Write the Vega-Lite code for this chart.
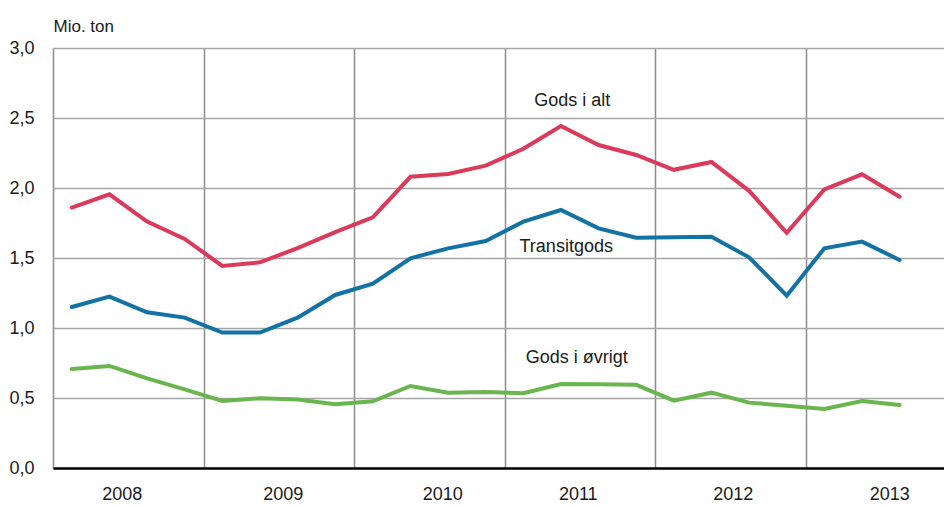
{
  "$schema": "https://vega.github.io/schema/vega-lite/v6.json",
  "width": 891,
  "height": 420,
  "autosize": "none",
  "padding": {"left": 53, "top": 48, "right": 0, "bottom": 37},
  "background": "white",
  "config": {
    "view": {"stroke": null},
    "font": "Liberation Sans Narrow, Liberation Sans, Arial"
  },
  "datasets": {
    "series": [
      {"t": 2008.125, "serie": "Gods i alt", "v": 1.86},
      {"t": 2008.375, "serie": "Gods i alt", "v": 1.955},
      {"t": 2008.625, "serie": "Gods i alt", "v": 1.76},
      {"t": 2008.875, "serie": "Gods i alt", "v": 1.636},
      {"t": 2009.125, "serie": "Gods i alt", "v": 1.443},
      {"t": 2009.375, "serie": "Gods i alt", "v": 1.469},
      {"t": 2009.625, "serie": "Gods i alt", "v": 1.57},
      {"t": 2009.875, "serie": "Gods i alt", "v": 1.685},
      {"t": 2010.125, "serie": "Gods i alt", "v": 1.79},
      {"t": 2010.375, "serie": "Gods i alt", "v": 2.08},
      {"t": 2010.625, "serie": "Gods i alt", "v": 2.1},
      {"t": 2010.875, "serie": "Gods i alt", "v": 2.16},
      {"t": 2011.125, "serie": "Gods i alt", "v": 2.28},
      {"t": 2011.375, "serie": "Gods i alt", "v": 2.443},
      {"t": 2011.625, "serie": "Gods i alt", "v": 2.307},
      {"t": 2011.875, "serie": "Gods i alt", "v": 2.236},
      {"t": 2012.125, "serie": "Gods i alt", "v": 2.13},
      {"t": 2012.375, "serie": "Gods i alt", "v": 2.186},
      {"t": 2012.625, "serie": "Gods i alt", "v": 1.98},
      {"t": 2012.875, "serie": "Gods i alt", "v": 1.68},
      {"t": 2013.125, "serie": "Gods i alt", "v": 1.99},
      {"t": 2013.375, "serie": "Gods i alt", "v": 2.098},
      {"t": 2013.625, "serie": "Gods i alt", "v": 1.938},
      {"t": 2008.125, "serie": "Transitgods", "v": 1.15},
      {"t": 2008.375, "serie": "Transitgods", "v": 1.224},
      {"t": 2008.625, "serie": "Transitgods", "v": 1.112},
      {"t": 2008.875, "serie": "Transitgods", "v": 1.074},
      {"t": 2009.125, "serie": "Transitgods", "v": 0.967},
      {"t": 2009.375, "serie": "Transitgods", "v": 0.967},
      {"t": 2009.625, "serie": "Transitgods", "v": 1.074},
      {"t": 2009.875, "serie": "Transitgods", "v": 1.236},
      {"t": 2010.125, "serie": "Transitgods", "v": 1.316},
      {"t": 2010.375, "serie": "Transitgods", "v": 1.498},
      {"t": 2010.625, "serie": "Transitgods", "v": 1.569},
      {"t": 2010.875, "serie": "Transitgods", "v": 1.621},
      {"t": 2011.125, "serie": "Transitgods", "v": 1.76},
      {"t": 2011.375, "serie": "Transitgods", "v": 1.843},
      {"t": 2011.625, "serie": "Transitgods", "v": 1.712},
      {"t": 2011.875, "serie": "Transitgods", "v": 1.645},
      {"t": 2012.125, "serie": "Transitgods", "v": 1.648},
      {"t": 2012.375, "serie": "Transitgods", "v": 1.652},
      {"t": 2012.625, "serie": "Transitgods", "v": 1.505},
      {"t": 2012.875, "serie": "Transitgods", "v": 1.231},
      {"t": 2013.125, "serie": "Transitgods", "v": 1.569},
      {"t": 2013.375, "serie": "Transitgods", "v": 1.617},
      {"t": 2013.625, "serie": "Transitgods", "v": 1.486},
      {"t": 2008.125, "serie": "Gods i øvrigt", "v": 0.707},
      {"t": 2008.375, "serie": "Gods i øvrigt", "v": 0.729},
      {"t": 2008.625, "serie": "Gods i øvrigt", "v": 0.64},
      {"t": 2008.875, "serie": "Gods i øvrigt", "v": 0.562},
      {"t": 2009.125, "serie": "Gods i øvrigt", "v": 0.479},
      {"t": 2009.375, "serie": "Gods i øvrigt", "v": 0.498},
      {"t": 2009.625, "serie": "Gods i øvrigt", "v": 0.49},
      {"t": 2009.875, "serie": "Gods i øvrigt", "v": 0.455},
      {"t": 2010.125, "serie": "Gods i øvrigt", "v": 0.476},
      {"t": 2010.375, "serie": "Gods i øvrigt", "v": 0.586},
      {"t": 2010.625, "serie": "Gods i øvrigt", "v": 0.538},
      {"t": 2010.875, "serie": "Gods i øvrigt", "v": 0.543},
      {"t": 2011.125, "serie": "Gods i øvrigt", "v": 0.534},
      {"t": 2011.375, "serie": "Gods i øvrigt", "v": 0.6},
      {"t": 2011.625, "serie": "Gods i øvrigt", "v": 0.598},
      {"t": 2011.875, "serie": "Gods i øvrigt", "v": 0.594},
      {"t": 2012.125, "serie": "Gods i øvrigt", "v": 0.481},
      {"t": 2012.375, "serie": "Gods i øvrigt", "v": 0.538},
      {"t": 2012.625, "serie": "Gods i øvrigt", "v": 0.467},
      {"t": 2012.875, "serie": "Gods i øvrigt", "v": 0.445},
      {"t": 2013.125, "serie": "Gods i øvrigt", "v": 0.421},
      {"t": 2013.375, "serie": "Gods i øvrigt", "v": 0.479},
      {"t": 2013.625, "serie": "Gods i øvrigt", "v": 0.45}
    ],
    "years": [
      {"label": "2008", "t": 2008.46},
      {"label": "2009", "t": 2009.53},
      {"label": "2010", "t": 2010.59},
      {"label": "2011", "t": 2011.49},
      {"label": "2012", "t": 2012.52},
      {"label": "2013", "t": 2013.56}
    ],
    "notes": [
      {"label": "Gods i alt", "t": 2011.45, "v": 2.62},
      {"label": "Transitgods", "t": 2011.41, "v": 1.58},
      {"label": "Gods i øvrigt", "t": 2011.48, "v": 0.786}
    ]
  },
  "layer": [
    {
      "data": {"name": "series"},
      "mark": {"type": "line", "strokeWidth": 4, "strokeCap": "round", "strokeJoin": "miter"},
      "encoding": {
        "x": {
          "field": "t", "type": "quantitative",
          "scale": {"domain": [2008, 2013.92], "nice": false, "zero": false},
          "axis": {
            "values": [2008, 2009, 2010, 2011, 2012, 2013],
            "labels": false, "ticks": false, "title": null,
            "grid": true, "gridColor": "#8c8c8c", "gridWidth": 1.5,
            "domain": true, "domainColor": "#000000", "domainWidth": 2.5
          }
        },
        "y": {
          "field": "v", "type": "quantitative",
          "scale": {"domain": [0, 3], "nice": false},
          "axis": {
            "values": [0, 0.5, 1, 1.5, 2, 2.5, 3],
            "labelExpr": "replace(format(datum.value, '.1f'), '.', ',')",
            "labelFontSize": 18, "labelColor": "#1a1a1a", "labelPadding": 19,
            "ticks": false, "domain": false,
            "grid": true, "gridColor": "#a6a6a6", "gridWidth": 1.5,
            "title": "Mio. ton", "titleAngle": 0, "titleAlign": "left",
            "titleBaseline": "alphabetic", "titleX": 0, "titleY": -17,
            "titleFontSize": 17, "titleFontWeight": "normal", "titleColor": "#1a1a1a"
          }
        },
        "color": {
          "field": "serie", "type": "nominal",
          "scale": {
            "domain": ["Gods i alt", "Transitgods", "Gods i øvrigt"],
            "range": ["#db3a5b", "#1372a4", "#6ab54f"]
          },
          "legend": null
        }
      }
    },
    {
      "data": {"name": "years"},
      "mark": {"type": "text", "fontSize": 18, "color": "#1a1a1a", "baseline": "middle", "align": "center"},
      "encoding": {
        "x": {"field": "t", "type": "quantitative"},
        "y": {"datum": -0.193, "type": "quantitative"},
        "text": {"field": "label"}
      }
    },
    {
      "data": {"name": "notes"},
      "mark": {"type": "text", "fontSize": 18, "color": "#1a1a1a", "baseline": "middle", "align": "center"},
      "encoding": {
        "x": {"field": "t", "type": "quantitative"},
        "y": {"field": "v", "type": "quantitative"},
        "text": {"field": "label"}
      }
    }
  ]
}
